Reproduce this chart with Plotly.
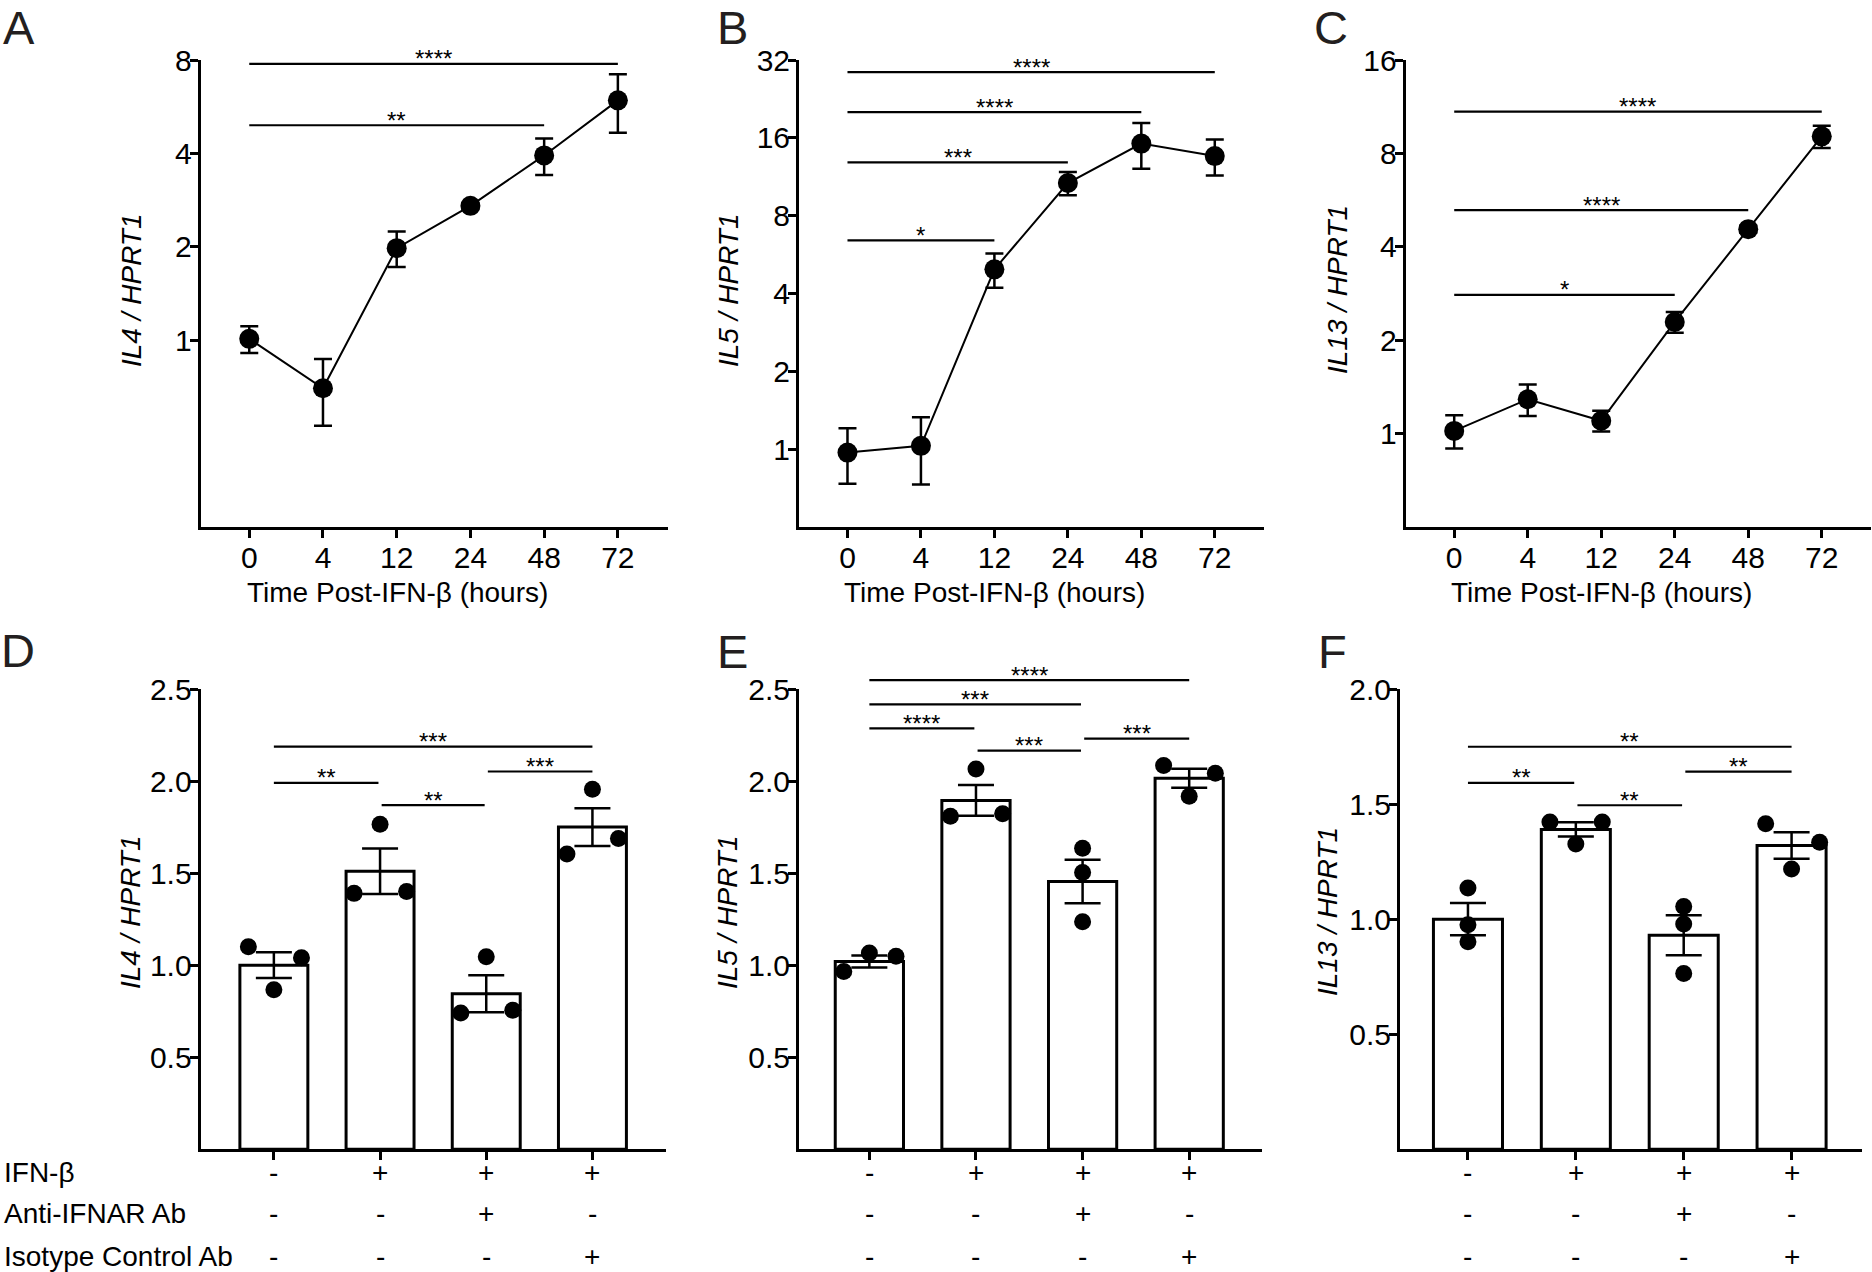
import math
import plotly.graph_objects as go

# ---------------- DATA ----------------
times = ["0", "4", "12", "24", "48", "72"]

il4_time_mean = [1.01, 0.70, 1.98, 2.71, 3.94, 5.93]
il4_time_sem = [0.10, 0.17, 0.26, 0.05, 0.53, 1.27]
il5_time_mean = [0.97, 1.03, 4.96, 10.7, 15.2, 13.6]
il5_time_sem = [0.235, 0.30, 0.75, 1.10, 3.05, 2.15]
il13_time_mean = [1.02, 1.29, 1.10, 2.29, 4.56, 9.08]
il13_time_sem = [0.125, 0.15, 0.085, 0.175, 0.12, 0.75]

conditions = ["Vehicle", "IFN-β", "IFN-β + Anti-IFNAR Ab", "IFN-β + Isotype Control Ab"]
row_labels = ["IFN-β", "Anti-IFNAR Ab", "Isotype Control Ab"]
ifnb_row = ["-", "+", "+", "+"]
anti_ifnar_row = ["-", "-", "+", "-"]
isotype_row = ["-", "-", "-", "+"]

il4_bar_mean = [1.00, 1.51, 0.845, 1.75]
il4_bar_sem = [0.07, 0.124, 0.10, 0.103]
il4_points = [[1.10, 0.867, 1.04], [1.39, 1.765, 1.40], [0.74, 1.046, 0.755], [1.604, 1.955, 1.688]]

il5_bar_mean = [1.02, 1.895, 1.455, 2.015]
il5_bar_sem = [0.032, 0.083, 0.118, 0.052]
il5_points = [[0.966, 1.066, 1.048], [1.809, 2.065, 1.823], [1.635, 1.503, 1.236], [2.085, 1.917, 2.043]]

il13_bar_mean = [1.00, 1.39, 0.93, 1.32]
il13_bar_sem = [0.07, 0.031, 0.087, 0.058]
il13_points = [[1.135, 0.976, 0.902], [1.422, 1.327, 1.422], [1.055, 0.979, 0.764], [1.415, 1.218, 1.334]]

# significance comparisons: (from index, to index, label, bar level in data units)
sig_A = [(0, 5, "****", 7.77), (0, 4, "**", 4.93)]
sig_B = [(0, 5, "****", 28.7), (0, 4, "****", 20.1), (0, 3, "***", 12.85), (0, 2, "*", 6.42)]
sig_C = [(0, 5, "****", 10.9), (0, 4, "****", 5.25), (0, 3, "*", 2.80)]
sig_D = [(0, 3, "***", 2.187), (0, 1, "**", 1.99), (1, 2, "**", 1.869), (2, 3, "***", 2.052)]
sig_E = [(0, 3, "****", 2.548), (0, 2, "***", 2.416), (0, 1, "****", 2.286), (1, 2, "***", 2.165), (2, 3, "***", 2.231)]
sig_F = [(0, 3, "**", 1.749), (0, 1, "**", 1.592), (1, 2, "**", 1.495), (2, 3, "**", 1.641)]

# ---------------- LAYOUT / STYLE ----------------
W, H = 1872, 1272
FONT = "Liberation Sans, Arial, Helvetica, sans-serif"
TICK_SIZE = 30
TITLE_SIZE = 28
STAR_SIZE = 24
LETTER_SIZE = 47

# point horizontal offsets (category units)
jit_D = [[-0.24, 0, 0.26], [-0.245, 0, 0.25], [-0.24, 0, 0.25], [-0.24, 0, 0.245]]
jit_E = [[-0.24, 0, 0.25], [-0.24, 0, 0.25], [0, 0, 0], [-0.24, 0, 0.245]]
jit_F = [[0, 0, 0], [-0.24, 0, 0.245], [0, 0, 0], [-0.24, 0, 0.26]]

panels = [
    dict(letter="A", n="", xpx=(200.6, 668), ypx=(60, 527), xr=(-0.66, 5.68), yr=(0.25, 8), log=True,
         yt=[1, 2, 4, 8], ytt=["1", "2", "4", "8"], ytitle="<i>IL4 / HPRT1</i>", ytx=131, yty=290,
         letter_xy=(2, 27), xtitle_x=397, mean=il4_time_mean, sem=il4_time_sem, sig=sig_A),
    dict(letter="B", n="2", xpx=(799, 1264), ypx=(60, 527), xr=(-0.66, 5.67), yr=(0.5, 32), log=True,
         yt=[1, 2, 4, 8, 16, 32], ytt=["1", "2", "4", "8", "16", "32"], ytitle="<i>IL5 / HPRT1</i>", ytx=728, yty=290,
         letter_xy=(716, 27), xtitle_x=994, mean=il5_time_mean, sem=il5_time_sem, sig=sig_B),
    dict(letter="C", n="3", xpx=(1405.7, 1871), ypx=(60, 527), xr=(-0.66, 5.67), yr=(0.5, 16), log=True,
         yt=[1, 2, 4, 8, 16], ytt=["1", "2", "4", "8", "16"], ytitle="<i>IL13 / HPRT1</i>", ytx=1337, yty=290,
         letter_xy=(1313, 27), xtitle_x=1601, mean=il13_time_mean, sem=il13_time_sem, sig=sig_C),
    dict(letter="D", n="4", xpx=(200.6, 665.7), ypx=(689, 1149.3), xr=(-0.69, 3.69), yr=(0, 2.5), log=False,
         yt=[0.5, 1.0, 1.5, 2.0, 2.5], ytt=["0.5", "1.0", "1.5", "2.0", "2.5"], ytitle="<i>IL4 / HPRT1</i>", ytx=131, yty=912,
         letter_xy=(0, 650), mean=il4_bar_mean, sem=il4_bar_sem, pts=il4_points, jit=jit_D, sig=sig_D),
    dict(letter="E", n="5", xpx=(799, 1261.7), ypx=(689, 1149.3), xr=(-0.66, 3.68), yr=(0, 2.5), log=False,
         yt=[0.5, 1.0, 1.5, 2.0, 2.5], ytt=["0.5", "1.0", "1.5", "2.0", "2.5"], ytitle="<i>IL5 / HPRT1</i>", ytx=728, yty=912,
         letter_xy=(716, 651), mean=il5_bar_mean, sem=il5_bar_sem, pts=il5_points, jit=jit_E, sig=sig_E),
    dict(letter="F", n="6", xpx=(1400, 1861.7), ypx=(689, 1149.3), xr=(-0.63, 3.65), yr=(0, 2.0), log=False,
         yt=[0.5, 1.0, 1.5, 2.0], ytt=["0.5", "1.0", "1.5", "2.0"], ytitle="<i>IL13 / HPRT1</i>", ytx=1328, yty=912,
         letter_xy=(1317, 651), mean=il13_bar_mean, sem=il13_bar_sem, pts=il13_points, jit=jit_F, sig=sig_F),
]

row_py = [1172, 1213, 1256]
rows = [ifnb_row, anti_ifnar_row, isotype_row]


def paper_x(p, v):
    x0, x1 = p["xpx"]
    r0, r1 = p["xr"]
    return (x0 + (v - r0) / (r1 - r0) * (x1 - x0)) / W


def paper_y(p, v):
    top, bottom = p["ypx"]
    r0, r1 = p["yr"]
    if p["log"]:
        f = (math.log10(v) - math.log10(r0)) / (math.log10(r1) - math.log10(r0))
    else:
        f = (v - r0) / (r1 - r0)
    return 1 - (bottom - f * (bottom - top)) / H


fig = go.Figure()
shapes = []
annotations = []

axis_common = dict(showline=True, linecolor="black", linewidth=3, ticks="outside", ticklen=8,
                   tickwidth=3, tickcolor="black", showgrid=False, zeroline=False, fixedrange=True,
                   automargin=False, tickfont=dict(family=FONT, size=TICK_SIZE, color="black"))

layout_axes = {}
for p in panels:
    n = p["n"]
    xa, ya = "x" + n, "y" + n
    xdom = [p["xpx"][0] / W, p["xpx"][1] / W]
    ydom = [1 - p["ypx"][1] / H, 1 - p["ypx"][0] / H]
    if p["log"]:
        yrange = [math.log10(p["yr"][0]), math.log10(p["yr"][1])]
        ytype = "log"
    else:
        yrange = list(p["yr"])
        ytype = "linear"
    ncat = len(p["mean"])
    xaxis = dict(axis_common, domain=xdom, range=list(p["xr"]), anchor=ya, tickmode="array",
                 tickvals=list(range(ncat)), ticklabelstandoff=-6)
    if p["log"]:
        xaxis.update(ticktext=times)
    else:
        xaxis.update(showticklabels=False)
    yaxis = dict(axis_common, domain=ydom, range=yrange, type=ytype, anchor=xa, tickmode="array",
                 tickvals=p["yt"], ticktext=p["ytt"], ticklabelstandoff=-8)
    layout_axes["xaxis" + n] = xaxis
    layout_axes["yaxis" + n] = yaxis

    if p["log"]:
        fig.add_trace(go.Scatter(
            x=list(range(ncat)), y=p["mean"], mode="lines+markers", xaxis=xa, yaxis=ya,
            line=dict(color="black", width=2), marker=dict(size=20, color="black"),
            error_y=dict(type="data", array=p["sem"], color="black", thickness=2.5, width=9),
            showlegend=False, cliponaxis=False, hoverinfo="skip"))
        annotations.append(dict(text="Time Post-IFN-β (hours)", xref="paper", yref="paper",
                                x=p["xtitle_x"] / W, y=1 - 592 / H, xanchor="center", yanchor="middle",
                                showarrow=False, font=dict(family=FONT, size=TITLE_SIZE, color="black")))
    else:
        fig.add_trace(go.Bar(
            x=list(range(ncat)), y=p["mean"], width=0.64, xaxis=xa, yaxis=ya,
            marker=dict(color="white", line=dict(color="black", width=3)),
            error_y=dict(type="data", array=p["sem"], color="black", thickness=2.5, width=18),
            showlegend=False, hoverinfo="skip"))
        px_, py_ = [], []
        for i, (vals, offs) in enumerate(zip(p["pts"], p["jit"])):
            for v, o in zip(vals, offs):
                px_.append(i + o)
                py_.append(v)
        fig.add_trace(go.Scatter(
            x=px_, y=py_, mode="markers", xaxis=xa, yaxis=ya,
            marker=dict(size=17, color="black"), showlegend=False, cliponaxis=False, hoverinfo="skip"))
        for r, row in enumerate(rows):
            for i, s in enumerate(row):
                annotations.append(dict(text=s, xref=xa, yref="paper", x=i, y=1 - row_py[r] / H,
                                        xanchor="center", yanchor="middle", showarrow=False,
                                        font=dict(family=FONT, size=TITLE_SIZE, color="black")))

    annotations.append(dict(text=p["ytitle"], xref="paper", yref="paper", x=p["ytx"] / W, y=1 - p["yty"] / H,
                            xanchor="center", yanchor="middle", textangle=-90, showarrow=False,
                            font=dict(family=FONT, size=TITLE_SIZE, color="black")))
    annotations.append(dict(text=p["letter"], xref="paper", yref="paper", x=p["letter_xy"][0] / W,
                            y=1 - p["letter_xy"][1] / H, xanchor="left", yanchor="middle", showarrow=False,
                            borderpad=0, font=dict(family=FONT, size=LETTER_SIZE, color="#231f20")))
    inset = 0.0 if p["log"] else 0.015
    for (a, b, lab, lvl) in p["sig"]:
        x0 = paper_x(p, a + (inset if a > 0 else 0))
        x1 = paper_x(p, b - (inset if b < ncat - 1 else 0))
        yy = paper_y(p, lvl)
        shapes.append(dict(type="line", xref="paper", yref="paper", x0=x0, x1=x1, y0=yy, y1=yy,
                           line=dict(color="black", width=2.2)))
        annotations.append(dict(text=lab, xref="paper", yref="paper", x=(x0 + x1) / 2, y=yy,
                                xanchor="center", yanchor="middle", yshift=5, showarrow=False,
                                font=dict(family=FONT, size=STAR_SIZE, color="black")))

for r, lab in enumerate(row_labels):
    annotations.append(dict(text=lab, xref="paper", yref="paper", x=2 / W, y=1 - row_py[r] / H,
                            xanchor="left", yanchor="middle", showarrow=False,
                            font=dict(family=FONT, size=TITLE_SIZE, color="black")))

fig.update_layout(width=W, height=H, margin=dict(l=0, r=0, t=0, b=0, autoexpand=False),
                  paper_bgcolor="white", plot_bgcolor="rgba(0,0,0,0)", shapes=shapes,
                  annotations=annotations, showlegend=False, barmode="overlay", **layout_axes)

fig.write_html("out.html", config={"displayModeBar": False},
               post_script="document.body.style.margin='0';document.body.style.overflow='hidden';")
